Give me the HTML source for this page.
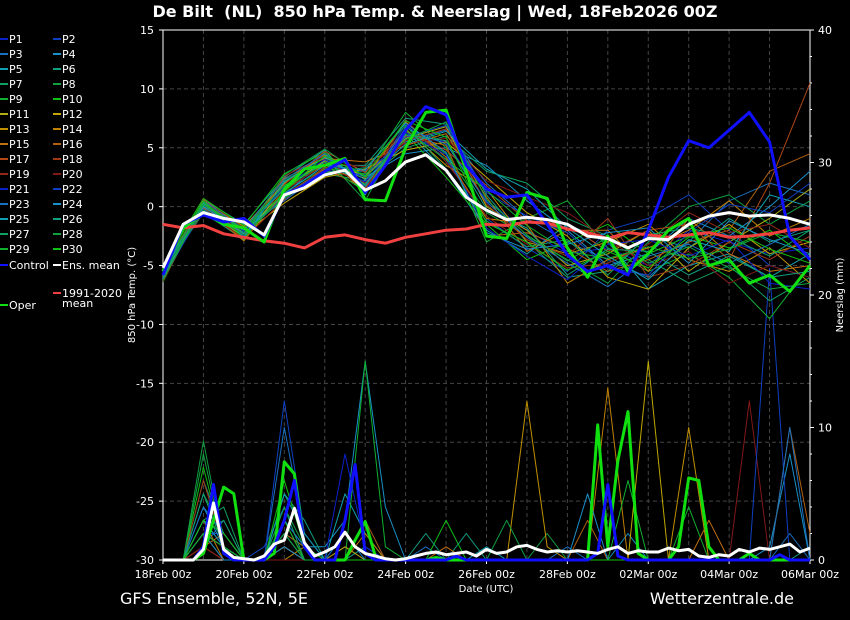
<!DOCTYPE html>
<html><head><meta charset="utf-8"><style>
html,body{margin:0;padding:0;background:#000;}
body{width:850px;height:620px;overflow:hidden;font-family:"Liberation Sans","DejaVu Sans",sans-serif;}
svg{display:block}
</style></head><body>
<svg id="chart" width="850" height="620" xmlns="http://www.w3.org/2000/svg" font-family="DejaVu Sans, Liberation Sans, sans-serif">
<rect width="850" height="620" fill="#000"/>
<text x="435" y="17" fill="#fff" font-size="16" font-weight="bold" text-anchor="middle" xml:space="preserve">De Bilt  (NL)  850 hPa Temp. &amp; Neerslag | Wed, 18Feb2026 00Z</text>
<text x="120" y="604" fill="#fff" font-size="16">GFS Ensemble, 52N, 5E</text>
<text x="794" y="604" fill="#fff" font-size="16" text-anchor="end">Wetterzentrale.de</text>
<text transform="translate(135,295) rotate(-90)" fill="#fff" font-size="10" text-anchor="middle">850 hPa Temp. (°C)</text>
<text transform="translate(843,295) rotate(-90)" fill="#fff" font-size="10" text-anchor="middle">Neerslag (mm)</text>
<text x="486" y="592" fill="#fff" font-size="10" text-anchor="middle">Date (UTC)</text>
<g id="grid"></g><g id="axes"></g><g id="series"></g><g id="legend"></g>
</svg>
<script>
const days = [0,1,2,3,4,5,6,7,8,9,10,11,12,13,14,15,16];
const xTickLabels = ["18Feb 00z","20Feb 00z","22Feb 00z","24Feb 00z","26Feb 00z","28Feb 00z","02Mar 00z","04Mar 00z","06Mar 00z"];
const tempTicks = [15,10,5,0,-5,-10,-15,-20,-25,-30];
const precipTicks = [40,30,20,10,0];
const memberColors = ["#0a20c8","#1040c0","#1870c0","#1890c8","#10a0b0","#10a080","#10a060","#10a040","#10b030","#10c010","#b0b010","#c0a800","#c09000","#c08000","#c07010","#b06010","#b04818","#a03818","#902818","#801818"];
// member temps, daily
const P1=[-5.8,0.2,-2.0,1.5,3.8,2.0,6.0,5.5,0.5,-2.0,-4.0,-3.5,-5.0,-2.0,-3.0,-4.0,-3.5];
const P2=[-6.0,-0.3,-2.5,2.0,4.5,1.5,7.0,4.0,-1.0,-3.5,-5.5,-2.0,-1.0,1.0,-2.0,-5.0,-6.0];
const P3=[-5.5,0.5,-1.8,0.5,3.0,3.0,5.5,6.5,2.0,-1.0,-3.0,-4.5,-6.0,-3.0,0.5,2.0,1.0];
const P4=[-5.2,0.0,-2.2,1.0,4.0,2.5,4.5,5.0,3.5,0.5,-2.0,-5.0,-4.0,-1.0,-2.5,0.0,3.0];
const P5=[-6.2,0.6,-1.5,2.5,4.8,1.0,6.5,3.0,-2.0,-4.0,-1.5,-3.0,-7.0,-5.0,-4.0,-6.0,-4.0];
const P6=[-5.6,-0.5,-2.8,1.8,3.5,3.5,7.5,7.0,1.0,-3.0,-6.0,-5.5,-2.5,-3.5,-1.0,-3.0,-2.0];
const P7=[-5.9,0.3,-1.9,0.8,2.8,2.2,5.0,6.0,3.0,2.0,-1.0,-2.5,-4.5,-6.5,-5.0,-8.0,-6.0];
const P8=[-5.4,0.1,-2.4,2.2,4.2,0.5,6.8,4.5,-0.5,-2.5,-4.5,-6.5,-3.0,0.0,1.0,-1.5,0.5];
const P9=[-6.4,0.4,-2.1,1.2,3.3,2.8,8.0,5.0,-3.0,-1.0,0.5,-3.5,-5.5,-4.0,-6.0,-9.5,-5.0];
const P10=[-5.0,0.7,-1.6,2.8,4.6,1.8,6.2,2.5,-1.5,-4.5,-3.0,-1.5,-4.0,-2.5,-3.5,-2.0,-4.5];
const P11=[-5.7,-0.2,-2.6,1.6,3.9,2.6,5.8,6.8,0.0,-2.0,-5.0,-4.0,-2.0,-5.5,-3.0,-1.0,1.5];
const P12=[-6.1,0.2,-2.3,0.3,2.5,3.2,4.8,5.5,2.5,-0.5,-2.5,-6.0,-7.0,-3.5,-1.5,-4.0,-3.0];
const P13=[-5.3,0.5,-1.7,2.0,4.4,1.2,6.6,3.5,1.5,-3.0,-4.0,-3.0,-1.5,-4.5,-5.5,-3.5,-6.5];
const P14=[-5.8,-0.1,-2.9,1.4,3.6,2.4,7.2,4.2,-1.0,-1.5,-6.5,-4.5,-3.5,-2.0,0.5,-2.5,-1.0];
const P15=[-6.0,0.3,-2.0,2.4,4.1,3.8,5.2,6.2,0.8,-3.8,-2.0,-2.0,-5.5,-1.0,-4.0,-5.5,-5.0];
const P16=[-5.5,0.0,-2.4,1.0,3.2,1.6,6.0,5.2,-2.5,-2.2,-3.5,-5.5,-4.5,-3.0,-2.0,3.0,4.5];
const P17=[-5.9,0.6,-1.9,1.9,4.7,2.9,6.4,4.8,1.8,-1.2,-1.5,-3.8,-2.0,-1.5,-4.5,2.0,10.5];
const P18=[-5.6,-0.4,-2.7,0.6,3.4,2.0,5.6,6.6,0.2,-2.8,-4.2,-1.0,-6.0,-5.0,-3.0,-4.5,-2.5];
const P19=[-6.3,0.1,-2.2,2.6,4.3,1.4,7.4,3.8,-0.8,-3.2,-5.2,-4.8,-3.2,-0.5,-2.2,-1.5,-3.5];
const P20=[-5.1,0.4,-1.8,1.3,3.7,3.4,5.4,5.8,2.2,0.8,-0.5,-2.8,-5.0,-3.8,-6.5,-5.0,-6.0];
const P21=[-5.7,0.2,-2.1,1.7,4.0,2.1,6.3,4.4,-1.8,-4.2,-6.2,-3.2,-2.8,-4.2,-2.8,-6.5,-7.0];
const P22=[-6.1,-0.2,-2.5,0.9,3.1,2.7,5.9,6.9,1.2,-0.8,-2.2,-5.2,-5.8,-2.2,0.2,-0.5,2.0];
const P23=[-5.4,0.5,-1.9,2.3,4.5,1.7,6.7,5.3,0.4,-2.6,-4.8,-6.8,-4.2,-3.2,-4.8,-3.2,-1.5];
const P24=[-5.8,0.0,-2.3,1.1,3.5,3.1,7.1,4.6,-2.2,-3.6,-3.2,-2.2,-1.8,-4.8,-1.2,-2.8,-4.0];
const P25=[-6.0,0.3,-2.6,2.1,4.2,2.3,5.3,6.4,3.2,1.5,-1.8,-4.2,-6.2,-2.8,-3.8,1.0,0.0];
const P26=[-5.5,0.1,-2.0,1.5,3.8,1.9,6.1,5.6,-0.2,-1.8,-5.8,-3.6,-3.8,-5.8,-4.2,-6.0,-5.5];
const P27=[-5.9,0.4,-2.2,0.7,2.9,3.3,6.9,3.2,-1.2,-3.4,-2.8,-5.8,-2.4,-1.8,-2.6,-4.2,-2.0];
const P28=[-5.6,-0.3,-2.4,2.7,4.9,2.5,5.7,7.2,0.6,-2.4,-4.6,-2.6,-4.8,-3.4,-5.2,-7.0,-6.5];
const P29=[-6.2,0.2,-1.9,1.8,3.6,1.3,6.5,4.0,1.4,-1.6,-3.8,-4.4,-3.4,-4.4,-3.6,-2.2,-3.0];
const P30=[-5.3,0.5,-2.7,1.3,4.3,2.6,7.3,5.9,-1.4,-3.0,-5.4,-3.8,-5.2,-2.6,-1.8,-3.6,-4.8];
const memberTemps=[P1,P2,P3,P4,P5,P6,P7,P8,P9,P10,P11,P12,P13,P14,P15,P16,P17,P18,P19,P20,P21,P22,P23,P24,P25,P26,P27,P28,P29,P30];
// member precip, 12-hourly (mm)
const R1=[0,0,3,1,0,0,2,1,0,1,0,0,0,0,0,0,0,0,0,0,0,0,0,0,0,0,0,0,0,0,0,0,0];
const R2=[0,0,2,2,0,1,4,0,0,0,1,0,0,0,0,0,0,0,0,0,0,0,0,0,0,0,0,0,0,0,0,0,0];
const R3=[0,0,1,3,0,0,10,2,0,2,0,0,0,1,0,0,0,0,0,0,1,0,0,0,0,0,0,0,0,0,0,2,0];
const R4=[0,0,4,1,0,0,3,1,1,3,15,4,0,0,0,0,0,0,0,0,0,0,0,2,0,0,0,0,0,0,1,8,0];
const R5=[0,0,2,0,0,0,1,0,0,5,2,0,0,0,0,0,1,0,0,0,0,0,0,0,0,0,0,0,0,0,0,0,0];
const R6=[0,0,6,2,0,0,5,3,0,0,0,0,0,0,0,2,0,0,0,0,0,0,0,0,0,0,0,0,0,0,0,0,1];
const R7=[0,0,3,4,0,0,2,0,0,0,1,0,0,0,0,0,0,0,0,0,0,0,0,0,0,0,0,0,0,0,0,0,0];
const R8=[0,0,9,1,0,0,4,1,0,0,3,0,0,0,0,0,0,0,0,2,0,0,0,0,0,0,0,0,0,0,0,0,0];
const R9=[0,0,5,2,0,0,3,0,0,0,15,1,0,0,0,0,0,0,0,0,0,0,0,0,0,0,4,0,0,0,0,0,0];
const R10=[0,0,7,1,0,0,2,1,0,0,0,0,0,0,3,0,0,0,0,0,0,0,0,0,0,0,0,0,0,0,0,0,0];
const R11=[0,0,2,1,0,0,1,0,0,0,0,0,0,0,0,0,0,0,0,0,0,0,0,0,0,0,0,0,0,0,0,0,0];
const R12=[0,0,1,0,0,0,2,0,0,1,0,0,0,0,0,0,0,0,0,0,0,0,0,0,15,0,0,0,0,0,0,0,0];
const R13=[0,0,2,1,0,0,0,1,0,0,0,0,0,0,0,0,0,0,12,1,0,0,0,0,0,0,10,0,0,0,0,0,0];
const R14=[0,0,3,0,0,0,1,0,0,0,2,0,0,0,0,0,0,0,0,0,0,0,13,0,0,0,0,0,0,0,0,0,0];
const R15=[0,0,1,2,0,0,3,0,0,0,0,0,0,0,1,0,0,0,0,0,0,0,0,0,0,0,0,3,0,0,0,0,0];
const R16=[0,0,2,1,0,0,2,1,0,0,0,0,0,0,0,0,0,0,0,0,0,3,0,0,0,0,0,0,0,0,0,10,2];
const R17=[0,0,1,0,0,0,1,0,0,0,3,0,0,0,0,0,0,0,0,0,0,0,0,0,0,0,0,0,0,0,0,0,0];
const R18=[0,0,6,1,0,0,0,0,0,0,0,0,0,0,0,0,0,0,0,0,0,0,0,0,0,0,0,0,0,0,0,0,0];
const R19=[0,0,2,0,0,0,1,0,0,0,0,0,0,0,0,0,0,0,0,0,0,0,0,0,0,0,0,0,0,0,0,0,0];
const R20=[0,0,1,0,0,0,0,0,0,0,0,0,0,0,0,0,0,0,0,0,0,0,0,0,0,0,0,0,0,12,0,0,0];
const R21=[0,0,3,1,0,0,2,0,0,8,1,0,0,0,0,0,0,0,0,0,0,0,0,0,0,0,0,0,0,0,0,0,0];
const R22=[0,0,2,1,0,0,12,2,0,0,0,0,0,0,0,0,0,0,0,0,0,0,0,0,0,0,0,0,0,0,22,0,0];
const R23=[0,0,4,2,0,0,3,1,0,2,0,0,0,0,0,0,0,0,0,0,0,0,0,0,0,0,0,0,0,0,0,10,0];
const R24=[0,0,2,0,0,0,1,0,0,0,0,0,0,0,0,0,0,0,0,0,0,5,0,0,0,0,0,0,0,0,0,0,0];
const R25=[0,0,3,1,0,0,5,2,0,0,0,0,0,0,0,0,0,0,0,0,0,0,0,0,0,0,0,0,0,0,0,0,0];
const R26=[0,0,5,1,0,0,2,0,0,0,0,0,0,2,0,0,0,0,0,0,0,0,0,0,0,0,0,0,0,0,0,0,0];
const R27=[0,0,2,3,0,0,4,0,0,0,0,0,0,0,0,0,0,0,0,0,0,0,0,0,0,0,0,0,0,0,0,0,0];
const R28=[0,0,8,1,0,0,2,0,0,0,0,0,0,0,0,0,0,3,0,0,0,0,0,0,0,0,0,0,0,0,0,0,0];
const R29=[0,0,2,1,0,0,3,0,0,0,0,0,0,0,0,0,0,0,0,0,0,0,0,6,0,0,0,0,0,0,0,0,0];
const R30=[0,0,3,2,0,0,6,1,0,0,0,0,0,0,0,0,0,0,0,0,0,0,0,0,0,0,0,0,0,0,0,0,0];
const memberPrecip=[R1,R2,R3,R4,R5,R6,R7,R8,R9,R10,R11,R12,R13,R14,R15,R16,R17,R18,R19,R20,R21,R22,R23,R24,R25,R26,R27,R28,R29,R30];
// key series temps, 12-hourly
const ensMeanTemp=[-5.2,-1.5,-0.5,-1.0,-1.3,-2.4,1.0,1.6,2.7,3.1,1.4,2.2,3.8,4.4,3.1,0.8,-0.3,-1.1,-0.9,-1.1,-1.5,-2.5,-2.7,-3.5,-2.7,-2.8,-1.5,-0.8,-0.5,-0.8,-0.7,-1.0,-1.5];
const controlTemp=[-5.8,-1.5,-0.7,-1.3,-1.0,-2.5,1.0,1.8,3.0,4.0,1.2,3.5,6.5,8.5,7.8,3.5,1.5,0.8,1.0,-1.5,-4.1,-5.5,-5.0,-5.8,-2.0,2.5,5.6,5.0,6.5,8.0,5.5,-2.5,-4.5];
const operTemp=[-5.5,-1.8,-0.5,-1.5,-1.8,-3.0,1.5,3.2,3.5,4.1,0.6,0.5,5.0,8.0,8.2,3.0,-2.5,-2.7,1.2,0.7,-3.5,-6.0,-2.5,-5.5,-4.0,-2.0,-1.0,-5.0,-4.5,-6.5,-5.8,-7.2,-5.0];
const climateTemp=[-1.5,-1.8,-1.6,-2.3,-2.6,-2.9,-3.1,-3.5,-2.6,-2.4,-2.8,-3.1,-2.6,-2.3,-2.0,-1.9,-1.5,-1.6,-1.3,-1.4,-1.9,-2.2,-2.7,-2.2,-2.4,-2.6,-2.4,-2.2,-2.6,-2.5,-2.3,-2.0,-1.8];
// key series precip, 6-hourly (mm)
const ensMeanPrecip=[0,0,0,0,0.8,4.3,0.8,0.2,0.1,0,0.3,1.2,1.5,3.9,1.3,0.3,0.6,1.0,2.1,1.0,0.5,0.3,0.1,0,0.1,0.3,0.5,0.6,0.4,0.5,0.6,0.3,0.8,0.5,0.6,1.0,1.1,0.8,0.6,0.7,0.6,0.7,0.6,0.5,0.8,1.0,0.5,0.7,0.6,0.6,0.9,0.7,0.8,0.3,0.2,0.4,0.3,0.8,0.6,0.9,0.8,1.0,1.2,0.6,0.9];
const controlPrecip=[0,0,0,0,1,5.7,0.5,0,0,0,0,1,3.0,6.0,1,0,0,0,3.0,7.2,0.5,0,0,0,0,0,0,0,0,0.3,0,0,0,0,0,0,0,0,0,0,0,0,0,0.5,5.7,0.3,0,0,0,0,0,0,0,0,0,0,0,0,0,0,0,0.4,0,0,0];
const operPrecip=[0,0,0,0,0.5,3,5.5,5.0,0,0,0,0.5,7.4,6.5,1,0,0,0,0,1.5,2.9,0.3,0,0,0,0,0,0.2,0,0,0,0,0,0,0,0,0,0,0,0,0,0,0,10.2,1,7.5,11.2,0.5,0,0,0,1.0,6.2,6.0,1,0,0,0,0.5,0,0,0,0,0,0];

const NS="http://www.w3.org/2000/svg";
const X0=163,X1=810,Y0=30,Y1=560;
function xDay(d){return X0+(X1-X0)*d/16;}
function yTemp(t){return Y0+(15-t)*(Y1-Y0)/45;}
function yPrec(p){return Y1-p*(Y1-Y0)/40;}
function mk(tag,attrs,parent){const e=document.createElementNS(NS,tag);for(const k in attrs)e.setAttribute(k,attrs[k]);parent.appendChild(e);return e;}
const grid=document.getElementById('grid'),axes=document.getElementById('axes'),series=document.getElementById('series'),legend=document.getElementById('legend');
days.forEach(d=>{if(d>0&&d<16){const l=mk('line',{x1:xDay(d),x2:xDay(d),y1:Y0,y2:Y1,stroke:'#444','stroke-dasharray':'4,3'},grid);

}});
tempTicks.forEach(t=>{const y=yTemp(t);
if(t<15&&t>-30){const l=mk('line',{x1:X0,x2:X1,y1:y,y2:y,stroke:'#444','stroke-dasharray':'4,3'},grid);

}
mk('line',{x1:X0-4,x2:X0,y1:y,y2:y,stroke:'#fff'},axes);
const tx=mk('text',{x:X0-9,y:y+4,fill:'#fff','font-size':'11','text-anchor':'end'},axes);tx.textContent=t;

});
precipTicks.forEach(p=>{const y=yPrec(p);mk('line',{x1:X1,x2:X1+4,y1:y,y2:y,stroke:'#fff'},axes);
const tx=mk('text',{x:X1+8,y:y+4,fill:'#fff','font-size':'11'},axes);tx.textContent=p;

});
for(let p=2;p<40;p+=2){mk('line',{x1:X1,x2:X1+2,y1:yPrec(p),y2:yPrec(p),stroke:'#fff'},axes);}
xTickLabels.forEach((s,i)=>{const x=xDay(i*2);mk('line',{x1:x,x2:x,y1:Y1,y2:Y1+4,stroke:'#fff'},axes);
const tx=mk('text',{x:x,y:578,fill:'#fff','font-size':'11','text-anchor':'middle'},axes);tx.textContent=s;

});
const frame=mk('rect',{x:X0,y:Y0,width:X1-X0,height:Y1-Y0,fill:'none',stroke:'#fff','stroke-width':1},axes);


function poly(vals,step,yf,color,w,name){const pts=vals.map((v,i)=>xDay(i*step).toFixed(1)+','+yf(v).toFixed(1)).join(' ');
const p=mk('polyline',{points:pts,fill:'none',stroke:color,'stroke-width':w,'stroke-linejoin':'round'},series);

}
memberPrecip.forEach((a,i)=>poly(a,0.5,yPrec,memberColors[i%20],1,'member-precip-line'));
memberTemps.forEach((a,i)=>poly(a,1,yTemp,memberColors[i%20],1,'member-temp-line'));
poly(operPrecip,0.25,yPrec,'#10e010',3,'oper-precip-line');
poly(controlPrecip,0.25,yPrec,'#1010ff',3,'control-precip-line');
poly(ensMeanPrecip,0.25,yPrec,'#ffffff',3,'ens-mean-precip-line');
poly(climateTemp,0.5,yTemp,'#f04040',3,'climate-mean-line');
poly(operTemp,0.5,yTemp,'#10e010',3,'oper-temp-line');
poly(controlTemp,0.5,yTemp,'#1010ff',3,'control-temp-line');
poly(ensMeanTemp,0.5,yTemp,'#ffffff',3,'ens-mean-temp-line');
function legEntry(x,y,color,label,name){const g=mk('g',{},legend);


mk('line',{x1:x,x2:x+8,y1:y,y2:y,stroke:color,'stroke-width':2},g);
const t=mk('text',{x:x+9,y:y+4,fill:'#fff','font-size':'11'},g);t.textContent=label;return t;}
for(let i=0;i<30;i++){const col=i%2,row=Math.floor(i/2);legEntry(col?53:0,39+row*15,memberColors[i%20],'P'+(i+1),'legend-entry-p'+(i+1));}
legEntry(0,265,'#1010ff','Control','legend-entry-control');
legEntry(53,265,'#ffffff','Ens. mean','legend-entry-ens-mean');
const cl=legEntry(53,293,'#f04040','1991-2020','legend-entry-climate-mean');
const t2=mk('text',{x:62,y:307,fill:'#fff','font-size':'11'},legend);t2.textContent='mean';
legEntry(0,305,'#10e010','Oper','legend-entry-oper');
</script>
</body></html>
